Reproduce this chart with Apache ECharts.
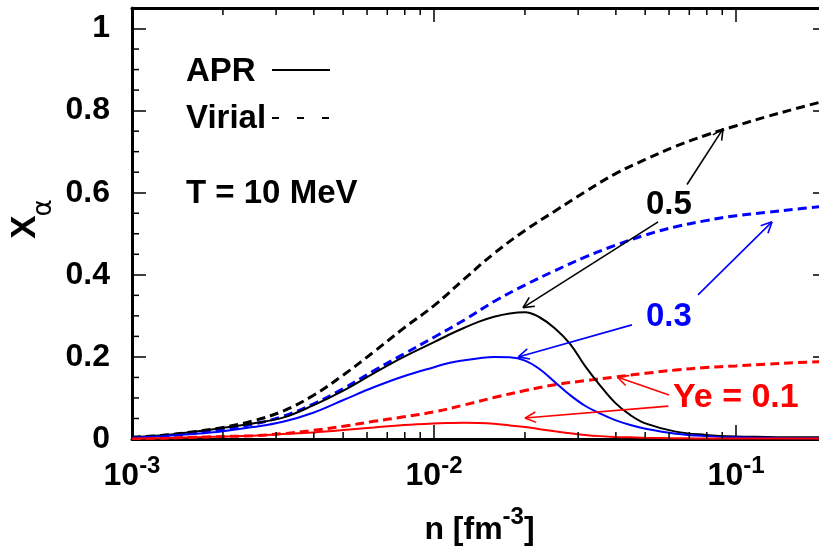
<!DOCTYPE html>
<html><head><meta charset="utf-8">
<script src="https://cdn.jsdelivr.net/npm/echarts@6/dist/echarts.min.js"></script>
<style>html,body{margin:0;padding:0;background:#fff}#c{width:819px;height:551px}</style>
</head><body><div id="c"></div>
<script>
// ---------- data ----------
// Virial curves
const nVirial = [0.001, 0.00126, 0.00158, 0.002, 0.00251, 0.00316, 0.00398, 0.00501, 0.00631, 0.00794, 0.01, 0.0126, 0.0158, 0.02, 0.0251, 0.0316, 0.0398, 0.0501, 0.0631, 0.0794, 0.1, 0.126, 0.158, 0.2];
const virialYe05 = [0.004, 0.009, 0.017, 0.028, 0.044, 0.068, 0.106, 0.156, 0.212, 0.270, 0.325, 0.390, 0.452, 0.508, 0.555, 0.602, 0.646, 0.681, 0.713, 0.740, 0.763, 0.785, 0.805, 0.825];
const virialYe03 = [0.003, 0.007, 0.014, 0.024, 0.036, 0.055, 0.085, 0.123, 0.166, 0.207, 0.248, 0.290, 0.335, 0.375, 0.410, 0.443, 0.472, 0.497, 0.517, 0.532, 0.544, 0.552, 0.560, 0.568];
const virialYe01 = [0.001, 0.002, 0.004, 0.006, 0.008, 0.013, 0.021, 0.031, 0.043, 0.054, 0.066, 0.083, 0.101, 0.118, 0.132, 0.142, 0.151, 0.160, 0.168, 0.174, 0.178, 0.182, 0.186, 0.189];
// APR curves (denser around the peak)
const nAPR = [0.001, 0.00126, 0.00158, 0.002, 0.00251, 0.00316, 0.00398, 0.00501, 0.00631, 0.00794, 0.01, 0.0112, 0.0126, 0.0141, 0.0158, 0.0178, 0.02, 0.0224, 0.0251, 0.0282, 0.0316, 0.0355, 0.0398, 0.0447, 0.0501, 0.0631, 0.0794, 0.1, 0.126, 0.158, 0.2];
const aprYe05 = [0.004, 0.009, 0.017, 0.027, 0.038, 0.052, 0.082, 0.118, 0.160, 0.200, 0.236, 0.254, 0.271, 0.286, 0.298, 0.306, 0.309, 0.296, 0.270, 0.232, 0.178, 0.130, 0.088, 0.058, 0.038, 0.018, 0.010, 0.006, 0.005, 0.004, 0.004];
const aprYe03 = [0.003, 0.007, 0.012, 0.019, 0.029, 0.042, 0.064, 0.095, 0.126, 0.153, 0.175, 0.185, 0.192, 0.197, 0.200, 0.199, 0.191, 0.170, 0.139, 0.107, 0.081, 0.062, 0.046, 0.034, 0.025, 0.013, 0.007, 0.004, 0.003, 0.002, 0.002];
const aprYe01 = [0.001, 0.002, 0.004, 0.006, 0.008, 0.012, 0.016, 0.022, 0.028, 0.034, 0.038, 0.039, 0.0395, 0.039, 0.037, 0.033, 0.029, 0.024, 0.019, 0.014, 0.010, 0.007, 0.005, 0.004, 0.003, 0.002, 0.001, 0.001, 0.001, 0.001, 0.001];

const xMinorTicks = [0.002, 0.003, 0.004, 0.005, 0.006, 0.007, 0.008, 0.009, 0.02, 0.03, 0.04, 0.05, 0.06, 0.07, 0.08, 0.09];
const yMinorTicks = [0.05, 0.1, 0.15, 0.25, 0.3, 0.35, 0.45, 0.5, 0.55, 0.65, 0.7, 0.75, 0.85, 0.9, 0.95];

// arrow annotations: [n_from, y_from, n_to, y_to]
const arrowsBlack = [[0.0688, 0.620, 0.0906, 0.756], [0.0552, 0.529, 0.0197, 0.320]];
const arrowsBlue  = [[0.0748, 0.351, 0.1315, 0.529], [0.0452, 0.278, 0.0190, 0.200]];
const arrowsRed   = [[0.0600, 0.107, 0.0404, 0.151], [0.0597, 0.080, 0.0200, 0.051]];

// ---------- chart ----------
const FONT = '"Liberation Sans", Arial, Helvetica, sans-serif';
const pairs = (xs, ys) => xs.map((x, i) => [x, ys[i]]);

function logLabel(v) {
  const e = Math.log10(v);
  const r = Math.round(e);
  if (Math.abs(e - r) > 1e-6) return '';
  return '{b|10}{s|' + r + '}';
}

function arrowSeries(data, color) {
  return {
    type: 'custom', xAxisIndex: 0, yAxisIndex: 0, silent: true, clip: false, z: 10,
    encode: { x: [0, 2], y: [1, 3] },
    data: data,
    renderItem: function (params, api) {
      const p1 = api.coord([api.value(0), api.value(1)]);
      const p2 = api.coord([api.value(2), api.value(3)]);
      const a = Math.atan2(p2[1] - p1[1], p2[0] - p1[0]);
      const L = 12, h = 0.45;
      const st = { stroke: color, lineWidth: 1.6 };
      return {
        type: 'group', children: [
          { type: 'line', shape: { x1: p1[0], y1: p1[1], x2: p2[0], y2: p2[1] }, style: st },
          { type: 'line', shape: { x1: p2[0], y1: p2[1], x2: p2[0] - L * Math.cos(a - h), y2: p2[1] - L * Math.sin(a - h) }, style: st },
          { type: 'line', shape: { x1: p2[0], y1: p2[1], x2: p2[0] - L * Math.cos(a + h), y2: p2[1] - L * Math.sin(a + h) }, style: st }
        ]
      };
    }
  };
}

function lineSeries(xs, ys, color, dashed) {
  return {
    type: 'line', xAxisIndex: 0, yAxisIndex: 0, data: pairs(xs, ys),
    showSymbol: false, symbol: 'none', smooth: 0.4, silent: true,
    lineStyle: { color: color, width: dashed ? 3 : 2, type: dashed ? [9, 5] : 'solid' },
    z: dashed ? 3 : 4
  };
}

const richX = {
  b: { fontSize: 32, fontWeight: 'bold', fontFamily: FONT, color: '#000' },
  s: { fontSize: 24, fontWeight: 'bold', fontFamily: FONT, color: '#000', padding: [0, 0, 21, 0] }
};
const richName = {
  b: { fontSize: 32, fontWeight: 'bold', fontFamily: FONT, color: '#000' },
  s: { fontSize: 24, fontWeight: 'bold', fontFamily: FONT, color: '#000', padding: [0, 0, 27, 0] }
};

const axisLineStyle = { show: true, onZero: false, lineStyle: { color: '#000', width: 3 } };
const majorTick = { show: true, inside: true, length: 14, lineStyle: { color: '#000', width: 1.5 } };

const option = {
  animation: false,
  backgroundColor: '#fff',
  grid: { left: 132, right: -8, top: 8, bottom: 112, containLabel: false, outerBoundsMode: 'none' },
  xAxis: [
    {
      type: 'log', logBase: 10, min: 0.001, max: 0.2, position: 'bottom',
      axisLine: axisLineStyle, axisTick: majorTick,
      minorTick: { show: false }, splitLine: { show: false },
      axisLabel: { formatter: logLabel, margin: 15, rich: richX, showMaxLabel: false, showMinLabel: true },
      name: '{b|n [fm}{s|-3}{b|]}', nameLocation: 'middle', nameGap: 66, nameMoveOverlap: false,
      nameTextStyle: { rich: richName }
    },
    {
      type: 'log', logBase: 10, min: 0.001, max: 0.2, position: 'top',
      axisLine: axisLineStyle, axisTick: majorTick,
      minorTick: { show: false }, splitLine: { show: false },
      axisLabel: { show: false }
    }
  ],
  yAxis: [
    {
      type: 'value', min: 0, max: 1.05, interval: 0.2, position: 'left',
      axisLine: axisLineStyle, axisTick: majorTick,
      splitLine: { show: false },
      axisLabel: { fontSize: 32, fontWeight: 'bold', fontFamily: FONT, color: '#000', margin: 22, showMaxLabel: false }
    },
    {
      type: 'value', min: 0, max: 1.05, interval: 0.2, position: 'right',
      axisLine: axisLineStyle, axisTick: majorTick,
      splitLine: { show: false }, axisLabel: { show: false }
    }
  ],
  series: [
    lineSeries(nVirial, virialYe05, '#000000', true),
    lineSeries(nVirial, virialYe03, '#0000ff', true),
    lineSeries(nVirial, virialYe01, '#ff0000', true),
    lineSeries(nAPR, aprYe05, '#000000', false),
    lineSeries(nAPR, aprYe03, '#0000ff', false),
    lineSeries(nAPR, aprYe01, '#ff0000', false),
    {
      type: 'custom', xAxisIndex: 0, yAxisIndex: 0, silent: true, clip: false, z: 6,
      data: xMinorTicks.map(v => [v, 0]),
      renderItem: function (params, api) {
        const p = api.coord([api.value(0), 0]);
        const cs = params.coordSys;
        const top = cs.y, bot = cs.y + cs.height;
        const st = { stroke: '#000', lineWidth: 1.5 };
        return {
          type: 'group', children: [
            { type: 'line', shape: { x1: p[0], y1: bot, x2: p[0], y2: bot - 7 }, style: st },
            { type: 'line', shape: { x1: p[0], y1: top, x2: p[0], y2: top + 7 }, style: st }
          ]
        };
      }
    },
    {
      type: 'custom', xAxisIndex: 0, yAxisIndex: 0, silent: true, clip: false, z: 6,
      data: yMinorTicks.map(v => [0.001, v]),
      renderItem: function (params, api) {
        const p = api.coord([0.001, api.value(1)]);
        const cs = params.coordSys;
        const l = cs.x, r = cs.x + cs.width;
        const st = { stroke: '#000', lineWidth: 1.5 };
        return {
          type: 'group', children: [
            { type: 'line', shape: { x1: l, y1: p[1], x2: l + 7, y2: p[1] }, style: st },
            { type: 'line', shape: { x1: r, y1: p[1], x2: r - 7, y2: p[1] }, style: st }
          ]
        };
      }
    },
    arrowSeries(arrowsBlack, '#000000'),
    arrowSeries(arrowsBlue, '#0000ff'),
    arrowSeries(arrowsRed, '#ff0000')
  ],
  graphic: [
    { type: 'text', x: 186, y: 72, style: { text: 'APR', font: 'bold 33px ' + FONT, fill: '#000', align: 'left', verticalAlign: 'middle' } },
    { type: 'line', shape: { x1: 272, y1: 70, x2: 330, y2: 70 }, style: { stroke: '#000', lineWidth: 2 } },
    { type: 'text', x: 186, y: 119, style: { text: 'Virial', font: 'bold 33px ' + FONT, fill: '#000', align: 'left', verticalAlign: 'middle' } },
    { type: 'line', shape: { x1: 272, y1: 118, x2: 330, y2: 118 }, style: { stroke: '#000', lineWidth: 2, lineDash: [7, 18] } },
    { type: 'text', x: 186, y: 194, style: { text: 'T = 10 MeV', font: 'bold 33px ' + FONT, fill: '#000', align: 'left', verticalAlign: 'middle' } },
    { type: 'text', x: 646, y: 205, style: { text: '0.5', font: 'bold 33px ' + FONT, fill: '#000', align: 'left', verticalAlign: 'middle' } },
    { type: 'text', x: 646, y: 317, style: { text: '0.3', font: 'bold 33px ' + FONT, fill: '#0000ff', align: 'left', verticalAlign: 'middle' } },
    { type: 'text', x: 673, y: 398, style: { text: 'Ye = 0.1', font: 'bold 34px ' + FONT, fill: '#ff0000', align: 'left', verticalAlign: 'middle' } },
    { type: 'text', x: 25, y: 227, rotation: Math.PI / 2, style: { text: 'X', font: 'bold 35px ' + FONT, fill: '#000', align: 'center', verticalAlign: 'middle' } },
    { type: 'text', x: 44, y: 208, rotation: Math.PI / 2, style: { text: 'α', font: 'normal 26px "DejaVu Sans", sans-serif', fill: '#000', align: 'center', verticalAlign: 'middle' } }
  ]
};

const chart = echarts.init(document.getElementById('c'), null, { renderer: 'canvas' });
chart.setOption(option);
</script>
</body></html>
